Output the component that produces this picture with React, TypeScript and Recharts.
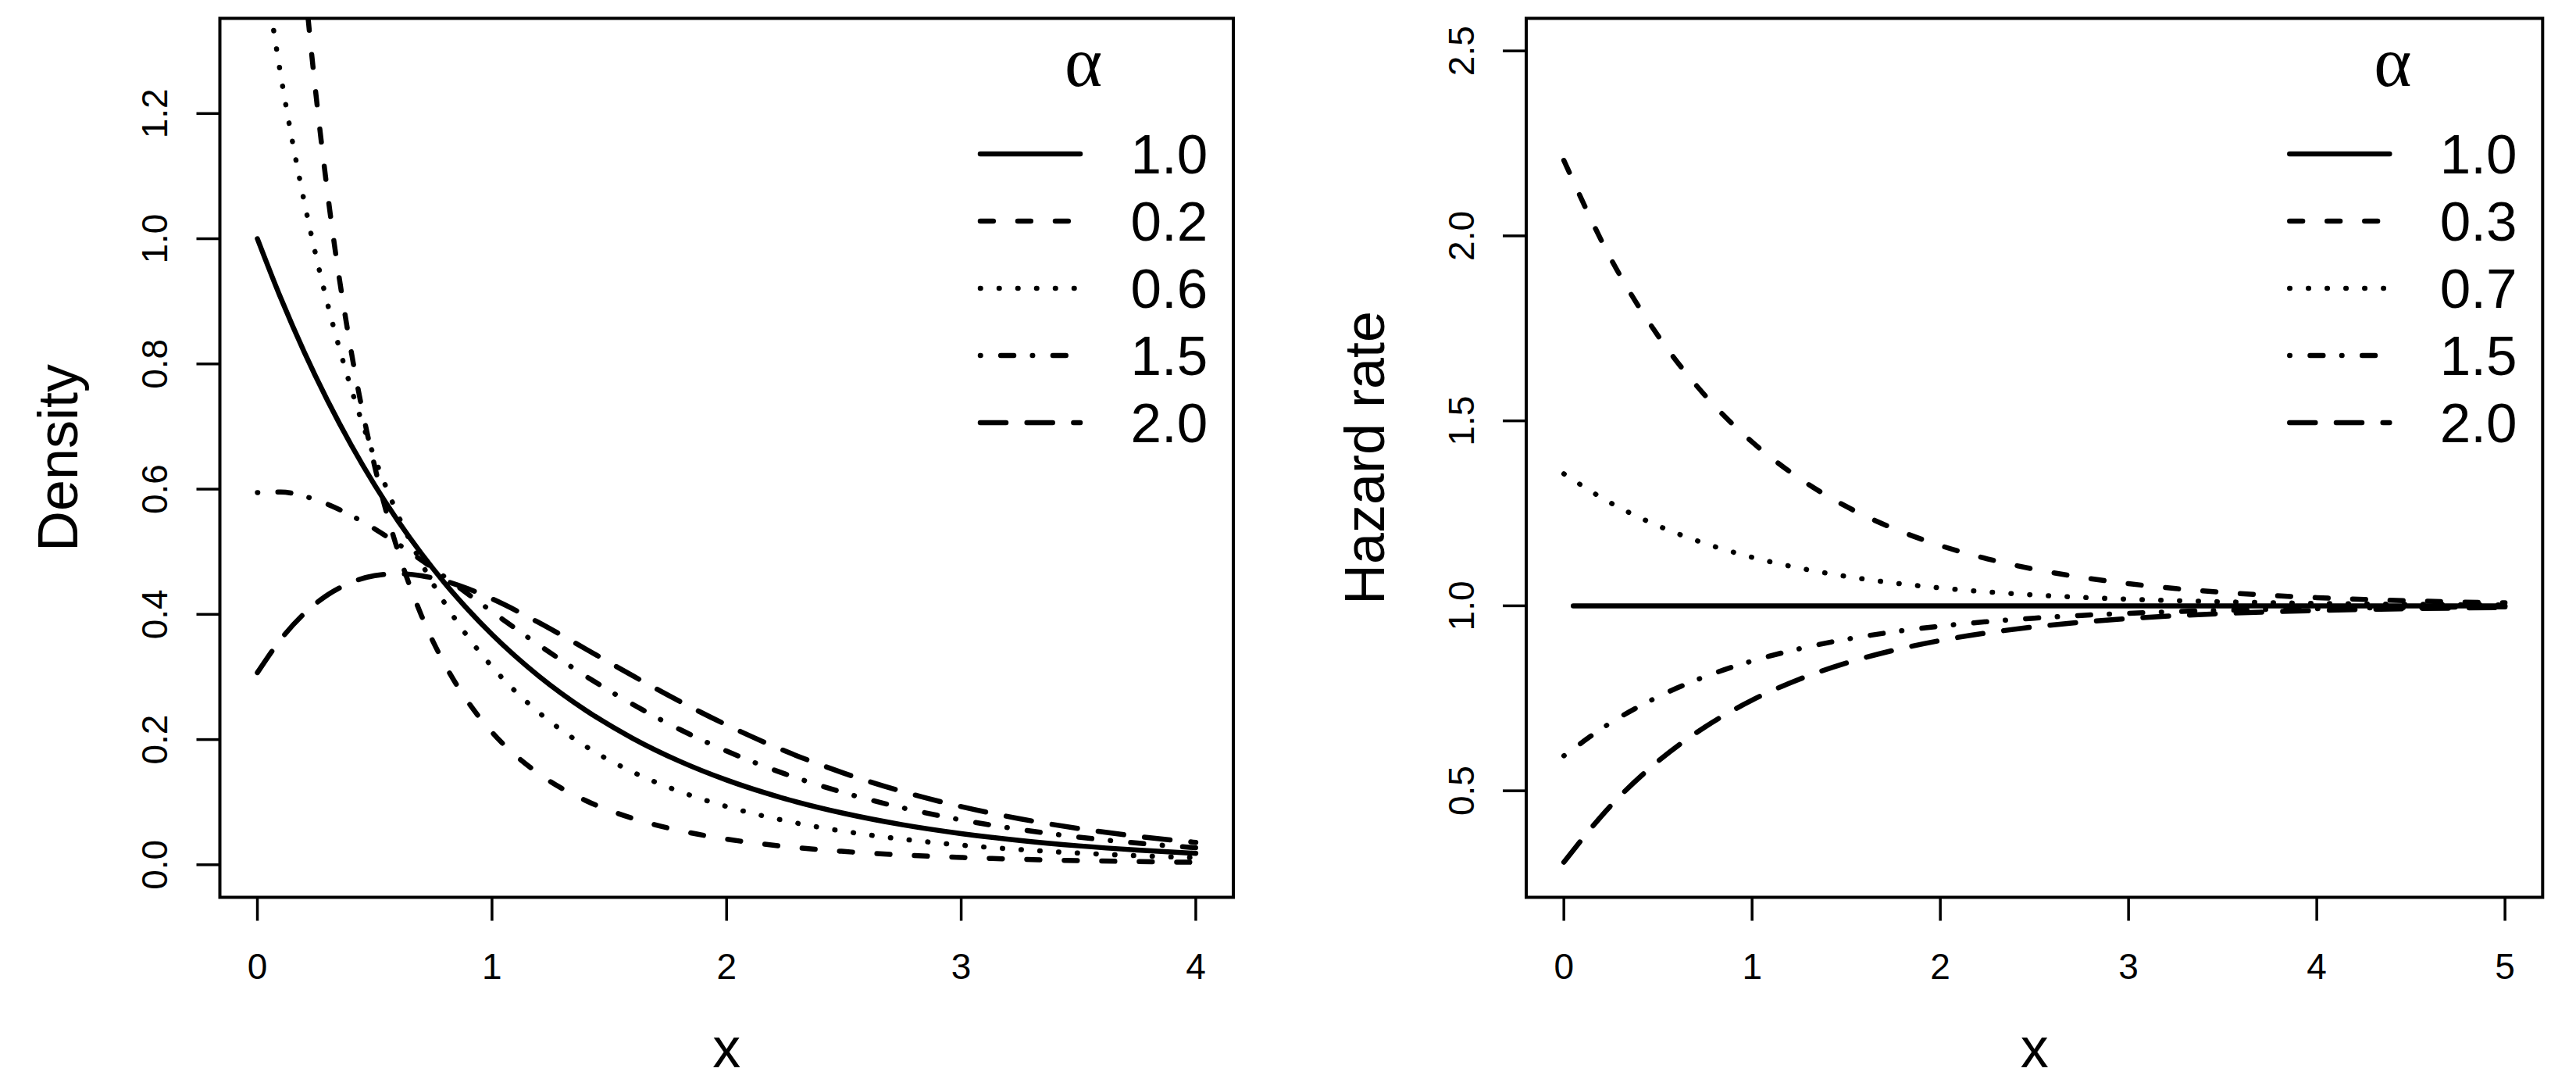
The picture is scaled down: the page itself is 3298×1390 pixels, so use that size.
import React from 'react';
import { LineChart, Line, XAxis, YAxis, ReferenceArea } from 'recharts';

// ---------- data ----------
const densityX = [0, 0.1, 0.2, 0.3, 0.4, 0.5, 0.6, 0.7, 0.8, 0.9, 1.0, 1.2, 1.4, 1.6, 1.8, 2.0, 2.25, 2.5, 2.75, 3.0, 3.25, 3.5, 3.75, 4.0];
const densityAlpha10 = [1.0, 0.9048, 0.8187, 0.7408, 0.6703, 0.6065, 0.5488, 0.4966, 0.4493, 0.4066, 0.3679, 0.3012, 0.2466, 0.2019, 0.1653, 0.1353, 0.1054, 0.0821, 0.0639, 0.0498, 0.0388, 0.0302, 0.0235, 0.0183];
const densityAlpha02 = [2.6094, 1.9069, 1.4174, 1.0701, 0.8197, 0.6363, 0.5, 0.3974, 0.3192, 0.2588, 0.2118, 0.1452, 0.1025, 0.074, 0.0546, 0.041, 0.0292, 0.0212, 0.0156, 0.0117, 0.0088, 0.0066, 0.0051, 0.0039];
const densityAlpha06 = [1.5108, 1.2603, 1.0585, 0.8945, 0.7604, 0.6498, 0.558, 0.4814, 0.417, 0.3626, 0.3164, 0.2432, 0.189, 0.1481, 0.117, 0.093, 0.0703, 0.0535, 0.0409, 0.0314, 0.0242, 0.0187, 0.0145, 0.0112];
const densityAlpha15 = [0.5945, 0.5954, 0.5887, 0.5757, 0.5579, 0.5365, 0.5123, 0.4864, 0.4594, 0.4319, 0.4044, 0.351, 0.3012, 0.2562, 0.2163, 0.1816, 0.145, 0.1151, 0.091, 0.0717, 0.0564, 0.0442, 0.0346, 0.0271];
const densityAlpha20 = [0.3069, 0.3603, 0.4015, 0.4313, 0.451, 0.4618, 0.4649, 0.4616, 0.4532, 0.4406, 0.4248, 0.3868, 0.3446, 0.3019, 0.261, 0.2233, 0.1816, 0.1463, 0.1169, 0.0929, 0.0735, 0.0579, 0.0455, 0.0357];
const densityAlphaNames = ['1.0', '0.2', '0.6', '1.5', '2.0'];

const hazardX = [0, 0.25, 0.5, 0.75, 1.0, 1.25, 1.5, 1.75, 2.0, 2.25, 2.5, 2.75, 3.0, 3.25, 3.5, 3.75, 4.0, 4.25, 4.5, 4.75, 5.0];
const hazardOneX = [0.05, 1, 2, 3, 4, 5];
const hazardAlpha10 = [1, 1, 1, 1, 1, 1];
const hazardAlpha03 = [2.204, 1.9377, 1.7302, 1.5687, 1.4429, 1.3449, 1.2686, 1.2092, 1.1629, 1.1269, 1.0988, 1.077, 1.0599, 1.0467, 1.0364, 1.0283, 1.0221, 1.0172, 1.0134, 1.0104, 1.0081];
const hazardAlpha07 = [1.3567, 1.2778, 1.2163, 1.1685, 1.1312, 1.1022, 1.0796, 1.062, 1.0483, 1.0376, 1.0293, 1.0228, 1.0178, 1.0138, 1.0108, 1.0084, 1.0065, 1.0051, 1.004, 1.0031, 1.0024];
const hazardAlpha15 = [0.5945, 0.6842, 0.7541, 0.8085, 0.8508, 0.8838, 0.9095, 0.9295, 0.9451, 0.9573, 0.9667, 0.9741, 0.9798, 0.9843, 0.9878, 0.9905, 0.9926, 0.9942, 0.9955, 0.9965, 0.9973];
const hazardAlpha20 = [0.3069, 0.4602, 0.5796, 0.6726, 0.745, 0.8014, 0.8453, 0.8795, 0.9062, 0.9269, 0.9431, 0.9557, 0.9655, 0.9731, 0.9791, 0.9837, 0.9873, 0.9901, 0.9923, 0.994, 0.9953];
const hazardAlphaNames = ['1.0', '0.3', '0.7', '1.5', '2.0'];

const densityXTicks = [0, 1, 2, 3, 4];
const densityYTicks = [0, 0.2, 0.4, 0.6, 0.8, 1.0, 1.2];
const hazardXTicks = [0, 1, 2, 3, 4, 5];
const hazardYTicks = [0.5, 1.0, 1.5, 2.0, 2.5];

// ---------- styles ----------
const SANS = '"Liberation Sans", Arial, Helvetica, sans-serif';
const SERIF = '"Liberation Serif", "DejaVu Serif", serif';
const LINE_W = 6.5;
// solid, dashed, dotted, dotdash, longdash (R lty 1..5)
const DASHES: (string | undefined)[] = [undefined, '16.8 31.2', '0.5 23.5', '0.5 25.7 16.8 23.7', '33 26.7'];

const H = 1390;
const PANEL_W = 1649;
const PLOT_TOP = 23.5;
const PLOT_BOTTOM = 1148.5;

function toPoints(xs: number[], ys: number[]) {
  return xs.map((x, i) => ({ x, y: ys[i] }));
}

const densitySeries = [
  toPoints(densityX, densityAlpha10),
  toPoints(densityX, densityAlpha02),
  toPoints(densityX, densityAlpha06),
  toPoints(densityX, densityAlpha15),
  toPoints(densityX, densityAlpha20),
];
const hazardSeries = [
  toPoints(hazardOneX, hazardAlpha10),
  toPoints(hazardX, hazardAlpha03),
  toPoints(hazardX, hazardAlpha07),
  toPoints(hazardX, hazardAlpha15),
  toPoints(hazardX, hazardAlpha20),
];

type PanelProps = {
  pageLeft: number;
  plotLeft: number;
  plotRight: number;
  xDomain: [number, number];
  yDomain: [number, number];
  xTicks: number[];
  yTicks: number[];
  series: { x: number; y: number }[][];
  names: string[];
  yLabel: string;
};

function Panel(p: PanelProps) {
  const yTickOffset = 37;
  const XTick = (props: any) => {
    const { x, y, payload } = props;
    return (
      <text x={x} y={y + 74.5} textAnchor="middle" fontSize={46} fontFamily={SANS} fill="#000">
        {String(payload.value)}
      </text>
    );
  };
  const YTick = (props: any) => {
    const { x, y, payload } = props;
    return (
      <text x={x} y={y} transform={`rotate(-90, ${x}, ${y})`} textAnchor="middle" fontSize={46} fontFamily={SANS} fill="#000">
        {Number(payload.value).toFixed(1)}
      </text>
    );
  };
  const plotCx = (p.plotLeft + p.plotRight) / 2;
  const plotCy = (PLOT_TOP + PLOT_BOTTOM) / 2;
  const lineStart = p.plotRight - 324;
  const lineEnd = p.plotRight - 196;
  const alphaX = p.plotRight - 192;
  const textX = p.plotRight - 131.5;
  return (
    <div style={{ position: 'absolute', left: p.pageLeft, top: 0, width: PANEL_W, height: H }}>
      <LineChart
        width={PANEL_W}
        height={H}
        margin={{ top: PLOT_TOP, right: PANEL_W - p.plotRight, bottom: 0, left: 0 }}
      >
        <XAxis
          type="number"
          dataKey="x"
          domain={p.xDomain}
          ticks={p.xTicks}
          interval={0}
          allowDataOverflow
          height={H - PLOT_BOTTOM}
          axisLine={false}
          tickLine={{ stroke: '#000', strokeWidth: 3.5 }}
          tickSize={30}
          tickMargin={0}
          tick={(props: any) => <XTick {...props} />}
        />
        <YAxis
          type="number"
          dataKey="y"
          domain={p.yDomain}
          ticks={p.yTicks}
          interval={0}
          allowDataOverflow
          width={p.plotLeft}
          axisLine={false}
          tickLine={{ stroke: '#000', strokeWidth: 3.5 }}
          tickSize={30}
          tickMargin={yTickOffset}
          tick={(props: any) => <YTick {...props} />}
        />
        <ReferenceArea
          x1={p.xDomain[0]}
          x2={p.xDomain[1]}
          y1={p.yDomain[0]}
          y2={p.yDomain[1]}
          fill="none"
          fillOpacity={0}
          stroke="#000"
          strokeWidth={4}
          ifOverflow="visible"
        />
        {p.series.map((pts, i) => (
          <Line
            key={p.names[i]}
            data={pts}
            dataKey="y"
            type="monotone"
            stroke="#000"
            strokeWidth={LINE_W}
            strokeDasharray={DASHES[i]}
            strokeLinecap="round"
            strokeLinejoin="round"
            dot={false}
            activeDot={false}
            isAnimationActive={false}
          />
        ))}
      </LineChart>
      <svg
        width={PANEL_W}
        height={H}
        style={{ position: 'absolute', left: 0, top: 0, pointerEvents: 'none' }}
      >
        <text
          x={p.plotLeft - 182.5}
          y={plotCy}
          transform={`rotate(-90, ${p.plotLeft - 182.5}, ${plotCy})`}
          textAnchor="middle"
          fontSize={72}
          fontFamily={SANS}
          fill="#000"
        >
          {p.yLabel}
        </text>
        <text x={plotCx} y={1366} textAnchor="middle" fontSize={72} fontFamily={SANS} fill="#000">
          x
        </text>
        <text x={alphaX} y={110} textAnchor="middle" fontSize={92} fontFamily={SERIF} fill="#000">
          α
        </text>
        {p.names.map((name, i) => {
          const ly = 197 + 86 * i;
          return (
            <g key={name}>
              <line
                x1={lineStart}
                x2={lineEnd}
                y1={ly}
                y2={ly}
                stroke="#000"
                strokeWidth={LINE_W}
                strokeDasharray={DASHES[i]}
                strokeLinecap="round"
              />
              <text x={textX} y={ly + 25} fontSize={71} fontFamily={SANS} fill="#000">
                {name}
              </text>
            </g>
          );
        })}
      </svg>
    </div>
  );
}

export default function App() {
  return (
    <div style={{ position: 'absolute', left: 0, top: 0, width: 3298, height: H, background: '#fff', overflow: 'hidden' }}>
      <Panel
        pageLeft={0}
        plotLeft={281.5}
        plotRight={1579}
        xDomain={[-0.16, 4.16]}
        yDomain={[-0.052, 1.352]}
        xTicks={densityXTicks}
        yTicks={densityYTicks}
        series={densitySeries}
        names={densityAlphaNames}
        yLabel="Density"
      />
      <Panel
        pageLeft={PANEL_W}
        plotLeft={305}
        plotRight={1606.3}
        xDomain={[-0.2, 5.2]}
        yDomain={[0.212, 2.588]}
        xTicks={hazardXTicks}
        yTicks={hazardYTicks}
        series={hazardSeries}
        names={hazardAlphaNames}
        yLabel="Hazard rate"
      />
    </div>
  );
}
